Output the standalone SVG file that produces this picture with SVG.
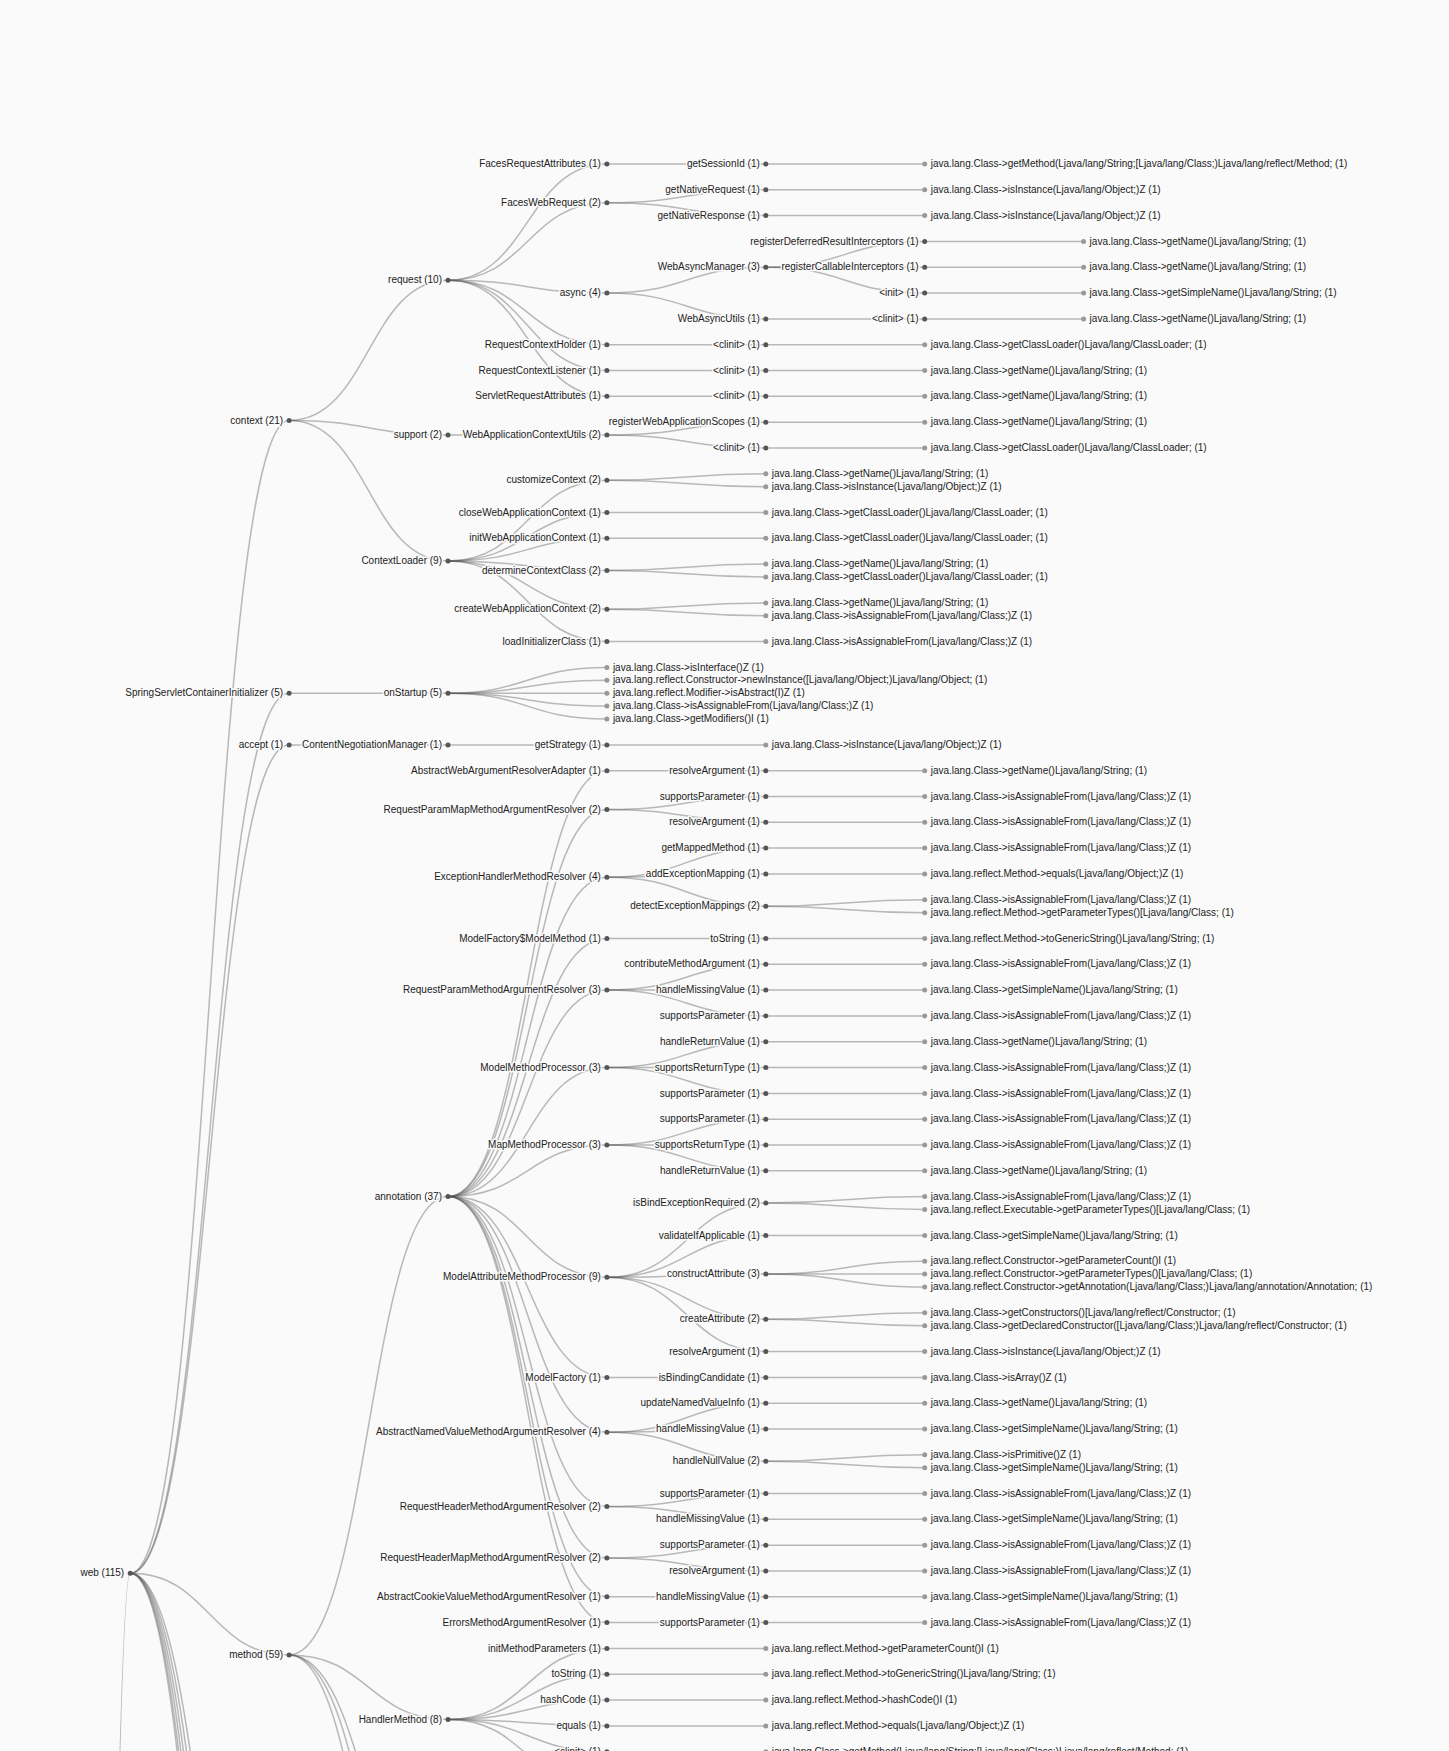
<svg xmlns="http://www.w3.org/2000/svg" width="1449" height="1751" viewBox="0 0 1449 1751">
<style>
.lk path{fill:none;stroke:#555;stroke-opacity:0.4;stroke-width:1.5}
.n text{font-family:"Liberation Sans",Arial,sans-serif;font-size:10px;fill:#222;stroke:#fafafa;stroke-width:3;stroke-linejoin:round;paint-order:stroke}
.i circle{fill:#555}
.i text{text-anchor:end}
.f circle{fill:#999}
.f text{text-anchor:start}
</style>
<rect width="1449" height="1751" fill="#fafafa"/>
<g id="connectors" class="lk">
<path d="M-28.7,31960C50.75,31960 50.75,1573.3 130.2,1573.3"/>
<path d="M130.2,1573.3C209.65,1573.3 209.65,420.5 289.1,420.5"/>
<path d="M130.2,1573.3C209.65,1573.3 209.65,693.2 289.1,693.2"/>
<path d="M130.2,1573.3C209.65,1573.3 209.65,744.9 289.1,744.9"/>
<path d="M130.2,1573.3C209.65,1573.3 209.65,1654.9 289.1,1654.9"/>
<path d="M130.2,1573.3C209.65,1573.3 209.65,2229.3 289.1,2229.3"/>
<path d="M130.2,1573.3C209.65,1573.3 209.65,2332.5 289.1,2332.5"/>
<path d="M130.2,1573.3C209.65,1573.3 209.65,2435.8 289.1,2435.8"/>
<path d="M130.2,1573.3C209.65,1573.3 209.65,2539.1 289.1,2539.1"/>
<path d="M130.2,1573.3C209.65,1573.3 209.65,2642.3 289.1,2642.3"/>
<path d="M130.2,1573.3C209.65,1573.3 209.65,2726.2 289.1,2726.2"/>
<path d="M289.1,420.5C368.55,420.5 368.55,280.2 448,280.2"/>
<path d="M289.1,420.5C368.55,420.5 368.55,435.1 448,435.1"/>
<path d="M289.1,420.5C368.55,420.5 368.55,560.9 448,560.9"/>
<path d="M448,280.2C527.45,280.2 527.45,164 606.9,164"/>
<path d="M448,280.2C527.45,280.2 527.45,202.7 606.9,202.7"/>
<path d="M448,280.2C527.45,280.2 527.45,293.1 606.9,293.1"/>
<path d="M448,280.2C527.45,280.2 527.45,344.7 606.9,344.7"/>
<path d="M448,280.2C527.45,280.2 527.45,370.5 606.9,370.5"/>
<path d="M448,280.2C527.45,280.2 527.45,396.3 606.9,396.3"/>
<path d="M606.9,164C686.35,164 686.35,164 765.8,164"/>
<path d="M765.8,164C845.25,164 845.25,164 924.7,164"/>
<path d="M606.9,202.7C686.35,202.7 686.35,189.8 765.8,189.8"/>
<path d="M606.9,202.7C686.35,202.7 686.35,215.6 765.8,215.6"/>
<path d="M765.8,189.8C845.25,189.8 845.25,189.8 924.7,189.8"/>
<path d="M765.8,215.6C845.25,215.6 845.25,215.6 924.7,215.6"/>
<path d="M606.9,293.1C686.35,293.1 686.35,267.3 765.8,267.3"/>
<path d="M606.9,293.1C686.35,293.1 686.35,318.9 765.8,318.9"/>
<path d="M765.8,267.3C845.25,267.3 845.25,241.4 924.7,241.4"/>
<path d="M765.8,267.3C845.25,267.3 845.25,267.3 924.7,267.3"/>
<path d="M765.8,267.3C845.25,267.3 845.25,293.1 924.7,293.1"/>
<path d="M924.7,241.4C1004.15,241.4 1004.15,241.4 1083.6,241.4"/>
<path d="M924.7,267.3C1004.15,267.3 1004.15,267.3 1083.6,267.3"/>
<path d="M924.7,293.1C1004.15,293.1 1004.15,293.1 1083.6,293.1"/>
<path d="M765.8,318.9C845.25,318.9 845.25,318.9 924.7,318.9"/>
<path d="M924.7,318.9C1004.15,318.9 1004.15,318.9 1083.6,318.9"/>
<path d="M606.9,344.7C686.35,344.7 686.35,344.7 765.8,344.7"/>
<path d="M765.8,344.7C845.25,344.7 845.25,344.7 924.7,344.7"/>
<path d="M606.9,370.5C686.35,370.5 686.35,370.5 765.8,370.5"/>
<path d="M765.8,370.5C845.25,370.5 845.25,370.5 924.7,370.5"/>
<path d="M606.9,396.3C686.35,396.3 686.35,396.3 765.8,396.3"/>
<path d="M765.8,396.3C845.25,396.3 845.25,396.3 924.7,396.3"/>
<path d="M448,435.1C527.45,435.1 527.45,435.1 606.9,435.1"/>
<path d="M606.9,435.1C686.35,435.1 686.35,422.2 765.8,422.2"/>
<path d="M606.9,435.1C686.35,435.1 686.35,448 765.8,448"/>
<path d="M765.8,422.2C845.25,422.2 845.25,422.2 924.7,422.2"/>
<path d="M765.8,448C845.25,448 845.25,448 924.7,448"/>
<path d="M448,560.9C527.45,560.9 527.45,480.2 606.9,480.2"/>
<path d="M448,560.9C527.45,560.9 527.45,512.5 606.9,512.5"/>
<path d="M448,560.9C527.45,560.9 527.45,538.3 606.9,538.3"/>
<path d="M448,560.9C527.45,560.9 527.45,570.6 606.9,570.6"/>
<path d="M448,560.9C527.45,560.9 527.45,609.3 606.9,609.3"/>
<path d="M448,560.9C527.45,560.9 527.45,641.6 606.9,641.6"/>
<path d="M606.9,480.2C686.35,480.2 686.35,473.8 765.8,473.8"/>
<path d="M606.9,480.2C686.35,480.2 686.35,486.7 765.8,486.7"/>
<path d="M606.9,512.5C686.35,512.5 686.35,512.5 765.8,512.5"/>
<path d="M606.9,538.3C686.35,538.3 686.35,538.3 765.8,538.3"/>
<path d="M606.9,570.6C686.35,570.6 686.35,564.1 765.8,564.1"/>
<path d="M606.9,570.6C686.35,570.6 686.35,577.1 765.8,577.1"/>
<path d="M606.9,609.3C686.35,609.3 686.35,602.9 765.8,602.9"/>
<path d="M606.9,609.3C686.35,609.3 686.35,615.8 765.8,615.8"/>
<path d="M606.9,641.6C686.35,641.6 686.35,641.6 765.8,641.6"/>
<path d="M289.1,693.2C368.55,693.2 368.55,693.2 448,693.2"/>
<path d="M448,693.2C527.45,693.2 527.45,667.4 606.9,667.4"/>
<path d="M448,693.2C527.45,693.2 527.45,680.3 606.9,680.3"/>
<path d="M448,693.2C527.45,693.2 527.45,693.2 606.9,693.2"/>
<path d="M448,693.2C527.45,693.2 527.45,706.1 606.9,706.1"/>
<path d="M448,693.2C527.45,693.2 527.45,719 606.9,719"/>
<path d="M289.1,744.9C368.55,744.9 368.55,744.9 448,744.9"/>
<path d="M448,744.9C527.45,744.9 527.45,744.9 606.9,744.9"/>
<path d="M606.9,744.9C686.35,744.9 686.35,744.9 765.8,744.9"/>
<path d="M289.1,1654.9C368.55,1654.9 368.55,1196.6 448,1196.6"/>
<path d="M289.1,1654.9C368.55,1654.9 368.55,1719.4 448,1719.4"/>
<path d="M289.1,1654.9C368.55,1654.9 368.55,1938.9 448,1938.9"/>
<path d="M289.1,1654.9C368.55,1654.9 368.55,2009.8 448,2009.8"/>
<path d="M289.1,1654.9C368.55,1654.9 368.55,2113.1 448,2113.1"/>
<path d="M448,1196.6C527.45,1196.6 527.45,770.7 606.9,770.7"/>
<path d="M448,1196.6C527.45,1196.6 527.45,809.4 606.9,809.4"/>
<path d="M448,1196.6C527.45,1196.6 527.45,877.2 606.9,877.2"/>
<path d="M448,1196.6C527.45,1196.6 527.45,938.5 606.9,938.5"/>
<path d="M448,1196.6C527.45,1196.6 527.45,990.1 606.9,990.1"/>
<path d="M448,1196.6C527.45,1196.6 527.45,1067.6 606.9,1067.6"/>
<path d="M448,1196.6C527.45,1196.6 527.45,1145 606.9,1145"/>
<path d="M448,1196.6C527.45,1196.6 527.45,1277.3 606.9,1277.3"/>
<path d="M448,1196.6C527.45,1196.6 527.45,1377.4 606.9,1377.4"/>
<path d="M448,1196.6C527.45,1196.6 527.45,1432.2 606.9,1432.2"/>
<path d="M448,1196.6C527.45,1196.6 527.45,1506.4 606.9,1506.4"/>
<path d="M448,1196.6C527.45,1196.6 527.45,1558.1 606.9,1558.1"/>
<path d="M448,1196.6C527.45,1196.6 527.45,1596.8 606.9,1596.8"/>
<path d="M448,1196.6C527.45,1196.6 527.45,1622.6 606.9,1622.6"/>
<path d="M606.9,770.7C686.35,770.7 686.35,770.7 765.8,770.7"/>
<path d="M765.8,770.7C845.25,770.7 845.25,770.7 924.7,770.7"/>
<path d="M606.9,809.4C686.35,809.4 686.35,796.5 765.8,796.5"/>
<path d="M606.9,809.4C686.35,809.4 686.35,822.3 765.8,822.3"/>
<path d="M765.8,796.5C845.25,796.5 845.25,796.5 924.7,796.5"/>
<path d="M765.8,822.3C845.25,822.3 845.25,822.3 924.7,822.3"/>
<path d="M606.9,877.2C686.35,877.2 686.35,848.1 765.8,848.1"/>
<path d="M606.9,877.2C686.35,877.2 686.35,874 765.8,874"/>
<path d="M606.9,877.2C686.35,877.2 686.35,906.2 765.8,906.2"/>
<path d="M765.8,848.1C845.25,848.1 845.25,848.1 924.7,848.1"/>
<path d="M765.8,874C845.25,874 845.25,874 924.7,874"/>
<path d="M765.8,906.2C845.25,906.2 845.25,899.8 924.7,899.8"/>
<path d="M765.8,906.2C845.25,906.2 845.25,912.7 924.7,912.7"/>
<path d="M606.9,938.5C686.35,938.5 686.35,938.5 765.8,938.5"/>
<path d="M765.8,938.5C845.25,938.5 845.25,938.5 924.7,938.5"/>
<path d="M606.9,990.1C686.35,990.1 686.35,964.3 765.8,964.3"/>
<path d="M606.9,990.1C686.35,990.1 686.35,990.1 765.8,990.1"/>
<path d="M606.9,990.1C686.35,990.1 686.35,1015.9 765.8,1015.9"/>
<path d="M765.8,964.3C845.25,964.3 845.25,964.3 924.7,964.3"/>
<path d="M765.8,990.1C845.25,990.1 845.25,990.1 924.7,990.1"/>
<path d="M765.8,1015.9C845.25,1015.9 845.25,1015.9 924.7,1015.9"/>
<path d="M606.9,1067.6C686.35,1067.6 686.35,1041.7 765.8,1041.7"/>
<path d="M606.9,1067.6C686.35,1067.6 686.35,1067.6 765.8,1067.6"/>
<path d="M606.9,1067.6C686.35,1067.6 686.35,1093.4 765.8,1093.4"/>
<path d="M765.8,1041.7C845.25,1041.7 845.25,1041.7 924.7,1041.7"/>
<path d="M765.8,1067.6C845.25,1067.6 845.25,1067.6 924.7,1067.6"/>
<path d="M765.8,1093.4C845.25,1093.4 845.25,1093.4 924.7,1093.4"/>
<path d="M606.9,1145C686.35,1145 686.35,1119.2 765.8,1119.2"/>
<path d="M606.9,1145C686.35,1145 686.35,1145 765.8,1145"/>
<path d="M606.9,1145C686.35,1145 686.35,1170.8 765.8,1170.8"/>
<path d="M765.8,1119.2C845.25,1119.2 845.25,1119.2 924.7,1119.2"/>
<path d="M765.8,1145C845.25,1145 845.25,1145 924.7,1145"/>
<path d="M765.8,1170.8C845.25,1170.8 845.25,1170.8 924.7,1170.8"/>
<path d="M606.9,1277.3C686.35,1277.3 686.35,1203.1 765.8,1203.1"/>
<path d="M606.9,1277.3C686.35,1277.3 686.35,1235.4 765.8,1235.4"/>
<path d="M606.9,1277.3C686.35,1277.3 686.35,1274.1 765.8,1274.1"/>
<path d="M606.9,1277.3C686.35,1277.3 686.35,1319.3 765.8,1319.3"/>
<path d="M606.9,1277.3C686.35,1277.3 686.35,1351.5 765.8,1351.5"/>
<path d="M765.8,1203.1C845.25,1203.1 845.25,1196.6 924.7,1196.6"/>
<path d="M765.8,1203.1C845.25,1203.1 845.25,1209.5 924.7,1209.5"/>
<path d="M765.8,1235.4C845.25,1235.4 845.25,1235.4 924.7,1235.4"/>
<path d="M765.8,1274.1C845.25,1274.1 845.25,1261.2 924.7,1261.2"/>
<path d="M765.8,1274.1C845.25,1274.1 845.25,1274.1 924.7,1274.1"/>
<path d="M765.8,1274.1C845.25,1274.1 845.25,1287 924.7,1287"/>
<path d="M765.8,1319.3C845.25,1319.3 845.25,1312.8 924.7,1312.8"/>
<path d="M765.8,1319.3C845.25,1319.3 845.25,1325.7 924.7,1325.7"/>
<path d="M765.8,1351.5C845.25,1351.5 845.25,1351.5 924.7,1351.5"/>
<path d="M606.9,1377.4C686.35,1377.4 686.35,1377.4 765.8,1377.4"/>
<path d="M765.8,1377.4C845.25,1377.4 845.25,1377.4 924.7,1377.4"/>
<path d="M606.9,1432.2C686.35,1432.2 686.35,1403.2 765.8,1403.2"/>
<path d="M606.9,1432.2C686.35,1432.2 686.35,1429 765.8,1429"/>
<path d="M606.9,1432.2C686.35,1432.2 686.35,1461.3 765.8,1461.3"/>
<path d="M765.8,1403.2C845.25,1403.2 845.25,1403.2 924.7,1403.2"/>
<path d="M765.8,1429C845.25,1429 845.25,1429 924.7,1429"/>
<path d="M765.8,1461.3C845.25,1461.3 845.25,1454.8 924.7,1454.8"/>
<path d="M765.8,1461.3C845.25,1461.3 845.25,1467.7 924.7,1467.7"/>
<path d="M606.9,1506.4C686.35,1506.4 686.35,1493.5 765.8,1493.5"/>
<path d="M606.9,1506.4C686.35,1506.4 686.35,1519.3 765.8,1519.3"/>
<path d="M765.8,1493.5C845.25,1493.5 845.25,1493.5 924.7,1493.5"/>
<path d="M765.8,1519.3C845.25,1519.3 845.25,1519.3 924.7,1519.3"/>
<path d="M606.9,1558.1C686.35,1558.1 686.35,1545.2 765.8,1545.2"/>
<path d="M606.9,1558.1C686.35,1558.1 686.35,1571 765.8,1571"/>
<path d="M765.8,1545.2C845.25,1545.2 845.25,1545.2 924.7,1545.2"/>
<path d="M765.8,1571C845.25,1571 845.25,1571 924.7,1571"/>
<path d="M606.9,1596.8C686.35,1596.8 686.35,1596.8 765.8,1596.8"/>
<path d="M765.8,1596.8C845.25,1596.8 845.25,1596.8 924.7,1596.8"/>
<path d="M606.9,1622.6C686.35,1622.6 686.35,1622.6 765.8,1622.6"/>
<path d="M765.8,1622.6C845.25,1622.6 845.25,1622.6 924.7,1622.6"/>
<path d="M448,1719.4C527.45,1719.4 527.45,1648.4 606.9,1648.4"/>
<path d="M448,1719.4C527.45,1719.4 527.45,1674.2 606.9,1674.2"/>
<path d="M448,1719.4C527.45,1719.4 527.45,1700.1 606.9,1700.1"/>
<path d="M448,1719.4C527.45,1719.4 527.45,1725.9 606.9,1725.9"/>
<path d="M448,1719.4C527.45,1719.4 527.45,1751.7 606.9,1751.7"/>
<path d="M448,1719.4C527.45,1719.4 527.45,1790.4 606.9,1790.4"/>
<path d="M606.9,1648.4C686.35,1648.4 686.35,1648.4 765.8,1648.4"/>
<path d="M606.9,1674.2C686.35,1674.2 686.35,1674.2 765.8,1674.2"/>
<path d="M606.9,1700.1C686.35,1700.1 686.35,1700.1 765.8,1700.1"/>
<path d="M606.9,1725.9C686.35,1725.9 686.35,1725.9 765.8,1725.9"/>
<path d="M606.9,1751.7C686.35,1751.7 686.35,1751.7 765.8,1751.7"/>
</g>
<g id="nodes">
<g id="n-web" class="n i" transform="translate(130.2,1573.3)"><circle r="2.5"/><text x="-6" dy="0.31em">web (115)</text></g>
<g id="n-context" class="n i" transform="translate(289.1,420.5)"><circle r="2.5"/><text x="-6" dy="0.31em">context (21)</text></g>
<g id="n-request" class="n i" transform="translate(448,280.2)"><circle r="2.5"/><text x="-6" dy="0.31em">request (10)</text></g>
<g id="n-fra" class="n i" transform="translate(606.9,164)"><circle r="2.5"/><text x="-6" dy="0.31em">FacesRequestAttributes (1)</text></g>
<g id="n-fra-gsi" class="n i" transform="translate(765.8,164)"><circle r="2.5"/><text x="-6" dy="0.31em">getSessionId (1)</text></g>
<g id="n-fra-gsi-l" class="n f" transform="translate(924.7,164)"><circle r="2.5"/><text x="6" dy="0.31em">java.lang.Class-&gt;getMethod(Ljava/lang/String;[Ljava/lang/Class;)Ljava/lang/reflect/Method; (1)</text></g>
<g id="n-fwr" class="n i" transform="translate(606.9,202.7)"><circle r="2.5"/><text x="-6" dy="0.31em">FacesWebRequest (2)</text></g>
<g id="n-fwr-gnq" class="n i" transform="translate(765.8,189.8)"><circle r="2.5"/><text x="-6" dy="0.31em">getNativeRequest (1)</text></g>
<g id="n-fwr-gnq-l" class="n f" transform="translate(924.7,189.8)"><circle r="2.5"/><text x="6" dy="0.31em">java.lang.Class-&gt;isInstance(Ljava/lang/Object;)Z (1)</text></g>
<g id="n-fwr-gns" class="n i" transform="translate(765.8,215.6)"><circle r="2.5"/><text x="-6" dy="0.31em">getNativeResponse (1)</text></g>
<g id="n-fwr-gns-l" class="n f" transform="translate(924.7,215.6)"><circle r="2.5"/><text x="6" dy="0.31em">java.lang.Class-&gt;isInstance(Ljava/lang/Object;)Z (1)</text></g>
<g id="n-async" class="n i" transform="translate(606.9,293.1)"><circle r="2.5"/><text x="-6" dy="0.31em">async (4)</text></g>
<g id="n-wam" class="n i" transform="translate(765.8,267.3)"><circle r="2.5"/><text x="-6" dy="0.31em">WebAsyncManager (3)</text></g>
<g id="n-wam-rdr" class="n i" transform="translate(924.7,241.4)"><circle r="2.5"/><text x="-6" dy="0.31em">registerDeferredResultInterceptors (1)</text></g>
<g id="n-wam-rdr-l" class="n f" transform="translate(1083.6,241.4)"><circle r="2.5"/><text x="6" dy="0.31em">java.lang.Class-&gt;getName()Ljava/lang/String; (1)</text></g>
<g id="n-wam-rci" class="n i" transform="translate(924.7,267.3)"><circle r="2.5"/><text x="-6" dy="0.31em">registerCallableInterceptors (1)</text></g>
<g id="n-wam-rci-l" class="n f" transform="translate(1083.6,267.3)"><circle r="2.5"/><text x="6" dy="0.31em">java.lang.Class-&gt;getName()Ljava/lang/String; (1)</text></g>
<g id="n-wam-init" class="n i" transform="translate(924.7,293.1)"><circle r="2.5"/><text x="-6" dy="0.31em">&lt;init&gt; (1)</text></g>
<g id="n-wam-init-l" class="n f" transform="translate(1083.6,293.1)"><circle r="2.5"/><text x="6" dy="0.31em">java.lang.Class-&gt;getSimpleName()Ljava/lang/String; (1)</text></g>
<g id="n-wau" class="n i" transform="translate(765.8,318.9)"><circle r="2.5"/><text x="-6" dy="0.31em">WebAsyncUtils (1)</text></g>
<g id="n-wau-cl" class="n i" transform="translate(924.7,318.9)"><circle r="2.5"/><text x="-6" dy="0.31em">&lt;clinit&gt; (1)</text></g>
<g id="n-wau-cl-l" class="n f" transform="translate(1083.6,318.9)"><circle r="2.5"/><text x="6" dy="0.31em">java.lang.Class-&gt;getName()Ljava/lang/String; (1)</text></g>
<g id="n-rch" class="n i" transform="translate(606.9,344.7)"><circle r="2.5"/><text x="-6" dy="0.31em">RequestContextHolder (1)</text></g>
<g id="n-rch-cl" class="n i" transform="translate(765.8,344.7)"><circle r="2.5"/><text x="-6" dy="0.31em">&lt;clinit&gt; (1)</text></g>
<g id="n-rch-cl-l" class="n f" transform="translate(924.7,344.7)"><circle r="2.5"/><text x="6" dy="0.31em">java.lang.Class-&gt;getClassLoader()Ljava/lang/ClassLoader; (1)</text></g>
<g id="n-rcl" class="n i" transform="translate(606.9,370.5)"><circle r="2.5"/><text x="-6" dy="0.31em">RequestContextListener (1)</text></g>
<g id="n-rcl-cl" class="n i" transform="translate(765.8,370.5)"><circle r="2.5"/><text x="-6" dy="0.31em">&lt;clinit&gt; (1)</text></g>
<g id="n-rcl-cl-l" class="n f" transform="translate(924.7,370.5)"><circle r="2.5"/><text x="6" dy="0.31em">java.lang.Class-&gt;getName()Ljava/lang/String; (1)</text></g>
<g id="n-sra" class="n i" transform="translate(606.9,396.3)"><circle r="2.5"/><text x="-6" dy="0.31em">ServletRequestAttributes (1)</text></g>
<g id="n-sra-cl" class="n i" transform="translate(765.8,396.3)"><circle r="2.5"/><text x="-6" dy="0.31em">&lt;clinit&gt; (1)</text></g>
<g id="n-sra-cl-l" class="n f" transform="translate(924.7,396.3)"><circle r="2.5"/><text x="6" dy="0.31em">java.lang.Class-&gt;getName()Ljava/lang/String; (1)</text></g>
<g id="n-support" class="n i" transform="translate(448,435.1)"><circle r="2.5"/><text x="-6" dy="0.31em">support (2)</text></g>
<g id="n-wacu" class="n i" transform="translate(606.9,435.1)"><circle r="2.5"/><text x="-6" dy="0.31em">WebApplicationContextUtils (2)</text></g>
<g id="n-wacu-rwas" class="n i" transform="translate(765.8,422.2)"><circle r="2.5"/><text x="-6" dy="0.31em">registerWebApplicationScopes (1)</text></g>
<g id="n-wacu-rwas-l" class="n f" transform="translate(924.7,422.2)"><circle r="2.5"/><text x="6" dy="0.31em">java.lang.Class-&gt;getName()Ljava/lang/String; (1)</text></g>
<g id="n-wacu-cl" class="n i" transform="translate(765.8,448)"><circle r="2.5"/><text x="-6" dy="0.31em">&lt;clinit&gt; (1)</text></g>
<g id="n-wacu-cl-l" class="n f" transform="translate(924.7,448)"><circle r="2.5"/><text x="6" dy="0.31em">java.lang.Class-&gt;getClassLoader()Ljava/lang/ClassLoader; (1)</text></g>
<g id="n-cl" class="n i" transform="translate(448,560.9)"><circle r="2.5"/><text x="-6" dy="0.31em">ContextLoader (9)</text></g>
<g id="n-cl-cc" class="n i" transform="translate(606.9,480.2)"><circle r="2.5"/><text x="-6" dy="0.31em">customizeContext (2)</text></g>
<g id="n-cl-cc-l1" class="n f" transform="translate(765.8,473.8)"><circle r="2.5"/><text x="6" dy="0.31em">java.lang.Class-&gt;getName()Ljava/lang/String; (1)</text></g>
<g id="n-cl-cc-l2" class="n f" transform="translate(765.8,486.7)"><circle r="2.5"/><text x="6" dy="0.31em">java.lang.Class-&gt;isInstance(Ljava/lang/Object;)Z (1)</text></g>
<g id="n-cl-cwac" class="n i" transform="translate(606.9,512.5)"><circle r="2.5"/><text x="-6" dy="0.31em">closeWebApplicationContext (1)</text></g>
<g id="n-cl-cwac-l" class="n f" transform="translate(765.8,512.5)"><circle r="2.5"/><text x="6" dy="0.31em">java.lang.Class-&gt;getClassLoader()Ljava/lang/ClassLoader; (1)</text></g>
<g id="n-cl-iwac" class="n i" transform="translate(606.9,538.3)"><circle r="2.5"/><text x="-6" dy="0.31em">initWebApplicationContext (1)</text></g>
<g id="n-cl-iwac-l" class="n f" transform="translate(765.8,538.3)"><circle r="2.5"/><text x="6" dy="0.31em">java.lang.Class-&gt;getClassLoader()Ljava/lang/ClassLoader; (1)</text></g>
<g id="n-cl-dcc" class="n i" transform="translate(606.9,570.6)"><circle r="2.5"/><text x="-6" dy="0.31em">determineContextClass (2)</text></g>
<g id="n-cl-dcc-l1" class="n f" transform="translate(765.8,564.1)"><circle r="2.5"/><text x="6" dy="0.31em">java.lang.Class-&gt;getName()Ljava/lang/String; (1)</text></g>
<g id="n-cl-dcc-l2" class="n f" transform="translate(765.8,577.1)"><circle r="2.5"/><text x="6" dy="0.31em">java.lang.Class-&gt;getClassLoader()Ljava/lang/ClassLoader; (1)</text></g>
<g id="n-cl-crwac" class="n i" transform="translate(606.9,609.3)"><circle r="2.5"/><text x="-6" dy="0.31em">createWebApplicationContext (2)</text></g>
<g id="n-cl-crwac-l1" class="n f" transform="translate(765.8,602.9)"><circle r="2.5"/><text x="6" dy="0.31em">java.lang.Class-&gt;getName()Ljava/lang/String; (1)</text></g>
<g id="n-cl-crwac-l2" class="n f" transform="translate(765.8,615.8)"><circle r="2.5"/><text x="6" dy="0.31em">java.lang.Class-&gt;isAssignableFrom(Ljava/lang/Class;)Z (1)</text></g>
<g id="n-cl-lic" class="n i" transform="translate(606.9,641.6)"><circle r="2.5"/><text x="-6" dy="0.31em">loadInitializerClass (1)</text></g>
<g id="n-cl-lic-l" class="n f" transform="translate(765.8,641.6)"><circle r="2.5"/><text x="6" dy="0.31em">java.lang.Class-&gt;isAssignableFrom(Ljava/lang/Class;)Z (1)</text></g>
<g id="n-ssci" class="n i" transform="translate(289.1,693.2)"><circle r="2.5"/><text x="-6" dy="0.31em">SpringServletContainerInitializer (5)</text></g>
<g id="n-ssci-os" class="n i" transform="translate(448,693.2)"><circle r="2.5"/><text x="-6" dy="0.31em">onStartup (5)</text></g>
<g id="n-ssci-os-l1" class="n f" transform="translate(606.9,667.4)"><circle r="2.5"/><text x="6" dy="0.31em">java.lang.Class-&gt;isInterface()Z (1)</text></g>
<g id="n-ssci-os-l2" class="n f" transform="translate(606.9,680.3)"><circle r="2.5"/><text x="6" dy="0.31em">java.lang.reflect.Constructor-&gt;newInstance([Ljava/lang/Object;)Ljava/lang/Object; (1)</text></g>
<g id="n-ssci-os-l3" class="n f" transform="translate(606.9,693.2)"><circle r="2.5"/><text x="6" dy="0.31em">java.lang.reflect.Modifier-&gt;isAbstract(I)Z (1)</text></g>
<g id="n-ssci-os-l4" class="n f" transform="translate(606.9,706.1)"><circle r="2.5"/><text x="6" dy="0.31em">java.lang.Class-&gt;isAssignableFrom(Ljava/lang/Class;)Z (1)</text></g>
<g id="n-ssci-os-l5" class="n f" transform="translate(606.9,719)"><circle r="2.5"/><text x="6" dy="0.31em">java.lang.Class-&gt;getModifiers()I (1)</text></g>
<g id="n-accept" class="n i" transform="translate(289.1,744.9)"><circle r="2.5"/><text x="-6" dy="0.31em">accept (1)</text></g>
<g id="n-cnm" class="n i" transform="translate(448,744.9)"><circle r="2.5"/><text x="-6" dy="0.31em">ContentNegotiationManager (1)</text></g>
<g id="n-cnm-gs" class="n i" transform="translate(606.9,744.9)"><circle r="2.5"/><text x="-6" dy="0.31em">getStrategy (1)</text></g>
<g id="n-cnm-gs-l" class="n f" transform="translate(765.8,744.9)"><circle r="2.5"/><text x="6" dy="0.31em">java.lang.Class-&gt;isInstance(Ljava/lang/Object;)Z (1)</text></g>
<g id="n-method" class="n i" transform="translate(289.1,1654.9)"><circle r="2.5"/><text x="-6" dy="0.31em">method (59)</text></g>
<g id="n-annotation" class="n i" transform="translate(448,1196.6)"><circle r="2.5"/><text x="-6" dy="0.31em">annotation (37)</text></g>
<g id="n-awara" class="n i" transform="translate(606.9,770.7)"><circle r="2.5"/><text x="-6" dy="0.31em">AbstractWebArgumentResolverAdapter (1)</text></g>
<g id="n-awara-ra" class="n i" transform="translate(765.8,770.7)"><circle r="2.5"/><text x="-6" dy="0.31em">resolveArgument (1)</text></g>
<g id="n-awara-ra-l" class="n f" transform="translate(924.7,770.7)"><circle r="2.5"/><text x="6" dy="0.31em">java.lang.Class-&gt;getName()Ljava/lang/String; (1)</text></g>
<g id="n-rpmmar" class="n i" transform="translate(606.9,809.4)"><circle r="2.5"/><text x="-6" dy="0.31em">RequestParamMapMethodArgumentResolver (2)</text></g>
<g id="n-rpmmar-sp" class="n i" transform="translate(765.8,796.5)"><circle r="2.5"/><text x="-6" dy="0.31em">supportsParameter (1)</text></g>
<g id="n-rpmmar-sp-l" class="n f" transform="translate(924.7,796.5)"><circle r="2.5"/><text x="6" dy="0.31em">java.lang.Class-&gt;isAssignableFrom(Ljava/lang/Class;)Z (1)</text></g>
<g id="n-rpmmar-ra" class="n i" transform="translate(765.8,822.3)"><circle r="2.5"/><text x="-6" dy="0.31em">resolveArgument (1)</text></g>
<g id="n-rpmmar-ra-l" class="n f" transform="translate(924.7,822.3)"><circle r="2.5"/><text x="6" dy="0.31em">java.lang.Class-&gt;isAssignableFrom(Ljava/lang/Class;)Z (1)</text></g>
<g id="n-ehmr" class="n i" transform="translate(606.9,877.2)"><circle r="2.5"/><text x="-6" dy="0.31em">ExceptionHandlerMethodResolver (4)</text></g>
<g id="n-ehmr-gmm" class="n i" transform="translate(765.8,848.1)"><circle r="2.5"/><text x="-6" dy="0.31em">getMappedMethod (1)</text></g>
<g id="n-ehmr-gmm-l" class="n f" transform="translate(924.7,848.1)"><circle r="2.5"/><text x="6" dy="0.31em">java.lang.Class-&gt;isAssignableFrom(Ljava/lang/Class;)Z (1)</text></g>
<g id="n-ehmr-aem" class="n i" transform="translate(765.8,874)"><circle r="2.5"/><text x="-6" dy="0.31em">addExceptionMapping (1)</text></g>
<g id="n-ehmr-aem-l" class="n f" transform="translate(924.7,874)"><circle r="2.5"/><text x="6" dy="0.31em">java.lang.reflect.Method-&gt;equals(Ljava/lang/Object;)Z (1)</text></g>
<g id="n-ehmr-dem" class="n i" transform="translate(765.8,906.2)"><circle r="2.5"/><text x="-6" dy="0.31em">detectExceptionMappings (2)</text></g>
<g id="n-ehmr-dem-l1" class="n f" transform="translate(924.7,899.8)"><circle r="2.5"/><text x="6" dy="0.31em">java.lang.Class-&gt;isAssignableFrom(Ljava/lang/Class;)Z (1)</text></g>
<g id="n-ehmr-dem-l2" class="n f" transform="translate(924.7,912.7)"><circle r="2.5"/><text x="6" dy="0.31em">java.lang.reflect.Method-&gt;getParameterTypes()[Ljava/lang/Class; (1)</text></g>
<g id="n-mfmm" class="n i" transform="translate(606.9,938.5)"><circle r="2.5"/><text x="-6" dy="0.31em">ModelFactory$ModelMethod (1)</text></g>
<g id="n-mfmm-ts" class="n i" transform="translate(765.8,938.5)"><circle r="2.5"/><text x="-6" dy="0.31em">toString (1)</text></g>
<g id="n-mfmm-ts-l" class="n f" transform="translate(924.7,938.5)"><circle r="2.5"/><text x="6" dy="0.31em">java.lang.reflect.Method-&gt;toGenericString()Ljava/lang/String; (1)</text></g>
<g id="n-rpmar" class="n i" transform="translate(606.9,990.1)"><circle r="2.5"/><text x="-6" dy="0.31em">RequestParamMethodArgumentResolver (3)</text></g>
<g id="n-rpmar-cma" class="n i" transform="translate(765.8,964.3)"><circle r="2.5"/><text x="-6" dy="0.31em">contributeMethodArgument (1)</text></g>
<g id="n-rpmar-cma-l" class="n f" transform="translate(924.7,964.3)"><circle r="2.5"/><text x="6" dy="0.31em">java.lang.Class-&gt;isAssignableFrom(Ljava/lang/Class;)Z (1)</text></g>
<g id="n-rpmar-hmv" class="n i" transform="translate(765.8,990.1)"><circle r="2.5"/><text x="-6" dy="0.31em">handleMissingValue (1)</text></g>
<g id="n-rpmar-hmv-l" class="n f" transform="translate(924.7,990.1)"><circle r="2.5"/><text x="6" dy="0.31em">java.lang.Class-&gt;getSimpleName()Ljava/lang/String; (1)</text></g>
<g id="n-rpmar-sp" class="n i" transform="translate(765.8,1015.9)"><circle r="2.5"/><text x="-6" dy="0.31em">supportsParameter (1)</text></g>
<g id="n-rpmar-sp-l" class="n f" transform="translate(924.7,1015.9)"><circle r="2.5"/><text x="6" dy="0.31em">java.lang.Class-&gt;isAssignableFrom(Ljava/lang/Class;)Z (1)</text></g>
<g id="n-mmp" class="n i" transform="translate(606.9,1067.6)"><circle r="2.5"/><text x="-6" dy="0.31em">ModelMethodProcessor (3)</text></g>
<g id="n-mmp-hrv" class="n i" transform="translate(765.8,1041.7)"><circle r="2.5"/><text x="-6" dy="0.31em">handleReturnValue (1)</text></g>
<g id="n-mmp-hrv-l" class="n f" transform="translate(924.7,1041.7)"><circle r="2.5"/><text x="6" dy="0.31em">java.lang.Class-&gt;getName()Ljava/lang/String; (1)</text></g>
<g id="n-mmp-srt" class="n i" transform="translate(765.8,1067.6)"><circle r="2.5"/><text x="-6" dy="0.31em">supportsReturnType (1)</text></g>
<g id="n-mmp-srt-l" class="n f" transform="translate(924.7,1067.6)"><circle r="2.5"/><text x="6" dy="0.31em">java.lang.Class-&gt;isAssignableFrom(Ljava/lang/Class;)Z (1)</text></g>
<g id="n-mmp-sp" class="n i" transform="translate(765.8,1093.4)"><circle r="2.5"/><text x="-6" dy="0.31em">supportsParameter (1)</text></g>
<g id="n-mmp-sp-l" class="n f" transform="translate(924.7,1093.4)"><circle r="2.5"/><text x="6" dy="0.31em">java.lang.Class-&gt;isAssignableFrom(Ljava/lang/Class;)Z (1)</text></g>
<g id="n-mapmp" class="n i" transform="translate(606.9,1145)"><circle r="2.5"/><text x="-6" dy="0.31em">MapMethodProcessor (3)</text></g>
<g id="n-mapmp-sp" class="n i" transform="translate(765.8,1119.2)"><circle r="2.5"/><text x="-6" dy="0.31em">supportsParameter (1)</text></g>
<g id="n-mapmp-sp-l" class="n f" transform="translate(924.7,1119.2)"><circle r="2.5"/><text x="6" dy="0.31em">java.lang.Class-&gt;isAssignableFrom(Ljava/lang/Class;)Z (1)</text></g>
<g id="n-mapmp-srt" class="n i" transform="translate(765.8,1145)"><circle r="2.5"/><text x="-6" dy="0.31em">supportsReturnType (1)</text></g>
<g id="n-mapmp-srt-l" class="n f" transform="translate(924.7,1145)"><circle r="2.5"/><text x="6" dy="0.31em">java.lang.Class-&gt;isAssignableFrom(Ljava/lang/Class;)Z (1)</text></g>
<g id="n-mapmp-hrv" class="n i" transform="translate(765.8,1170.8)"><circle r="2.5"/><text x="-6" dy="0.31em">handleReturnValue (1)</text></g>
<g id="n-mapmp-hrv-l" class="n f" transform="translate(924.7,1170.8)"><circle r="2.5"/><text x="6" dy="0.31em">java.lang.Class-&gt;getName()Ljava/lang/String; (1)</text></g>
<g id="n-mamp" class="n i" transform="translate(606.9,1277.3)"><circle r="2.5"/><text x="-6" dy="0.31em">ModelAttributeMethodProcessor (9)</text></g>
<g id="n-mamp-iber" class="n i" transform="translate(765.8,1203.1)"><circle r="2.5"/><text x="-6" dy="0.31em">isBindExceptionRequired (2)</text></g>
<g id="n-mamp-iber-l1" class="n f" transform="translate(924.7,1196.6)"><circle r="2.5"/><text x="6" dy="0.31em">java.lang.Class-&gt;isAssignableFrom(Ljava/lang/Class;)Z (1)</text></g>
<g id="n-mamp-iber-l2" class="n f" transform="translate(924.7,1209.5)"><circle r="2.5"/><text x="6" dy="0.31em">java.lang.reflect.Executable-&gt;getParameterTypes()[Ljava/lang/Class; (1)</text></g>
<g id="n-mamp-via" class="n i" transform="translate(765.8,1235.4)"><circle r="2.5"/><text x="-6" dy="0.31em">validateIfApplicable (1)</text></g>
<g id="n-mamp-via-l" class="n f" transform="translate(924.7,1235.4)"><circle r="2.5"/><text x="6" dy="0.31em">java.lang.Class-&gt;getSimpleName()Ljava/lang/String; (1)</text></g>
<g id="n-mamp-ca" class="n i" transform="translate(765.8,1274.1)"><circle r="2.5"/><text x="-6" dy="0.31em">constructAttribute (3)</text></g>
<g id="n-mamp-ca-l1" class="n f" transform="translate(924.7,1261.2)"><circle r="2.5"/><text x="6" dy="0.31em">java.lang.reflect.Constructor-&gt;getParameterCount()I (1)</text></g>
<g id="n-mamp-ca-l2" class="n f" transform="translate(924.7,1274.1)"><circle r="2.5"/><text x="6" dy="0.31em">java.lang.reflect.Constructor-&gt;getParameterTypes()[Ljava/lang/Class; (1)</text></g>
<g id="n-mamp-ca-l3" class="n f" transform="translate(924.7,1287)"><circle r="2.5"/><text x="6" dy="0.31em">java.lang.reflect.Constructor-&gt;getAnnotation(Ljava/lang/Class;)Ljava/lang/annotation/Annotation; (1)</text></g>
<g id="n-mamp-cra" class="n i" transform="translate(765.8,1319.3)"><circle r="2.5"/><text x="-6" dy="0.31em">createAttribute (2)</text></g>
<g id="n-mamp-cra-l1" class="n f" transform="translate(924.7,1312.8)"><circle r="2.5"/><text x="6" dy="0.31em">java.lang.Class-&gt;getConstructors()[Ljava/lang/reflect/Constructor; (1)</text></g>
<g id="n-mamp-cra-l2" class="n f" transform="translate(924.7,1325.7)"><circle r="2.5"/><text x="6" dy="0.31em">java.lang.Class-&gt;getDeclaredConstructor([Ljava/lang/Class;)Ljava/lang/reflect/Constructor; (1)</text></g>
<g id="n-mamp-ra" class="n i" transform="translate(765.8,1351.5)"><circle r="2.5"/><text x="-6" dy="0.31em">resolveArgument (1)</text></g>
<g id="n-mamp-ra-l" class="n f" transform="translate(924.7,1351.5)"><circle r="2.5"/><text x="6" dy="0.31em">java.lang.Class-&gt;isInstance(Ljava/lang/Object;)Z (1)</text></g>
<g id="n-mf" class="n i" transform="translate(606.9,1377.4)"><circle r="2.5"/><text x="-6" dy="0.31em">ModelFactory (1)</text></g>
<g id="n-mf-ibc" class="n i" transform="translate(765.8,1377.4)"><circle r="2.5"/><text x="-6" dy="0.31em">isBindingCandidate (1)</text></g>
<g id="n-mf-ibc-l" class="n f" transform="translate(924.7,1377.4)"><circle r="2.5"/><text x="6" dy="0.31em">java.lang.Class-&gt;isArray()Z (1)</text></g>
<g id="n-anvmar" class="n i" transform="translate(606.9,1432.2)"><circle r="2.5"/><text x="-6" dy="0.31em">AbstractNamedValueMethodArgumentResolver (4)</text></g>
<g id="n-anvmar-unvi" class="n i" transform="translate(765.8,1403.2)"><circle r="2.5"/><text x="-6" dy="0.31em">updateNamedValueInfo (1)</text></g>
<g id="n-anvmar-unvi-l" class="n f" transform="translate(924.7,1403.2)"><circle r="2.5"/><text x="6" dy="0.31em">java.lang.Class-&gt;getName()Ljava/lang/String; (1)</text></g>
<g id="n-anvmar-hmv" class="n i" transform="translate(765.8,1429)"><circle r="2.5"/><text x="-6" dy="0.31em">handleMissingValue (1)</text></g>
<g id="n-anvmar-hmv-l" class="n f" transform="translate(924.7,1429)"><circle r="2.5"/><text x="6" dy="0.31em">java.lang.Class-&gt;getSimpleName()Ljava/lang/String; (1)</text></g>
<g id="n-anvmar-hnv" class="n i" transform="translate(765.8,1461.3)"><circle r="2.5"/><text x="-6" dy="0.31em">handleNullValue (2)</text></g>
<g id="n-anvmar-hnv-l1" class="n f" transform="translate(924.7,1454.8)"><circle r="2.5"/><text x="6" dy="0.31em">java.lang.Class-&gt;isPrimitive()Z (1)</text></g>
<g id="n-anvmar-hnv-l2" class="n f" transform="translate(924.7,1467.7)"><circle r="2.5"/><text x="6" dy="0.31em">java.lang.Class-&gt;getSimpleName()Ljava/lang/String; (1)</text></g>
<g id="n-rhmar" class="n i" transform="translate(606.9,1506.4)"><circle r="2.5"/><text x="-6" dy="0.31em">RequestHeaderMethodArgumentResolver (2)</text></g>
<g id="n-rhmar-sp" class="n i" transform="translate(765.8,1493.5)"><circle r="2.5"/><text x="-6" dy="0.31em">supportsParameter (1)</text></g>
<g id="n-rhmar-sp-l" class="n f" transform="translate(924.7,1493.5)"><circle r="2.5"/><text x="6" dy="0.31em">java.lang.Class-&gt;isAssignableFrom(Ljava/lang/Class;)Z (1)</text></g>
<g id="n-rhmar-hmv" class="n i" transform="translate(765.8,1519.3)"><circle r="2.5"/><text x="-6" dy="0.31em">handleMissingValue (1)</text></g>
<g id="n-rhmar-hmv-l" class="n f" transform="translate(924.7,1519.3)"><circle r="2.5"/><text x="6" dy="0.31em">java.lang.Class-&gt;getSimpleName()Ljava/lang/String; (1)</text></g>
<g id="n-rhmmar" class="n i" transform="translate(606.9,1558.1)"><circle r="2.5"/><text x="-6" dy="0.31em">RequestHeaderMapMethodArgumentResolver (2)</text></g>
<g id="n-rhmmar-sp" class="n i" transform="translate(765.8,1545.2)"><circle r="2.5"/><text x="-6" dy="0.31em">supportsParameter (1)</text></g>
<g id="n-rhmmar-sp-l" class="n f" transform="translate(924.7,1545.2)"><circle r="2.5"/><text x="6" dy="0.31em">java.lang.Class-&gt;isAssignableFrom(Ljava/lang/Class;)Z (1)</text></g>
<g id="n-rhmmar-ra" class="n i" transform="translate(765.8,1571)"><circle r="2.5"/><text x="-6" dy="0.31em">resolveArgument (1)</text></g>
<g id="n-rhmmar-ra-l" class="n f" transform="translate(924.7,1571)"><circle r="2.5"/><text x="6" dy="0.31em">java.lang.Class-&gt;isAssignableFrom(Ljava/lang/Class;)Z (1)</text></g>
<g id="n-acvmar" class="n i" transform="translate(606.9,1596.8)"><circle r="2.5"/><text x="-6" dy="0.31em">AbstractCookieValueMethodArgumentResolver (1)</text></g>
<g id="n-acvmar-hmv" class="n i" transform="translate(765.8,1596.8)"><circle r="2.5"/><text x="-6" dy="0.31em">handleMissingValue (1)</text></g>
<g id="n-acvmar-hmv-l" class="n f" transform="translate(924.7,1596.8)"><circle r="2.5"/><text x="6" dy="0.31em">java.lang.Class-&gt;getSimpleName()Ljava/lang/String; (1)</text></g>
<g id="n-emar" class="n i" transform="translate(606.9,1622.6)"><circle r="2.5"/><text x="-6" dy="0.31em">ErrorsMethodArgumentResolver (1)</text></g>
<g id="n-emar-sp" class="n i" transform="translate(765.8,1622.6)"><circle r="2.5"/><text x="-6" dy="0.31em">supportsParameter (1)</text></g>
<g id="n-emar-sp-l" class="n f" transform="translate(924.7,1622.6)"><circle r="2.5"/><text x="6" dy="0.31em">java.lang.Class-&gt;isAssignableFrom(Ljava/lang/Class;)Z (1)</text></g>
<g id="n-hm" class="n i" transform="translate(448,1719.4)"><circle r="2.5"/><text x="-6" dy="0.31em">HandlerMethod (8)</text></g>
<g id="n-hm-imp" class="n i" transform="translate(606.9,1648.4)"><circle r="2.5"/><text x="-6" dy="0.31em">initMethodParameters (1)</text></g>
<g id="n-hm-imp-l" class="n f" transform="translate(765.8,1648.4)"><circle r="2.5"/><text x="6" dy="0.31em">java.lang.reflect.Method-&gt;getParameterCount()I (1)</text></g>
<g id="n-hm-ts" class="n i" transform="translate(606.9,1674.2)"><circle r="2.5"/><text x="-6" dy="0.31em">toString (1)</text></g>
<g id="n-hm-ts-l" class="n f" transform="translate(765.8,1674.2)"><circle r="2.5"/><text x="6" dy="0.31em">java.lang.reflect.Method-&gt;toGenericString()Ljava/lang/String; (1)</text></g>
<g id="n-hm-hc" class="n i" transform="translate(606.9,1700.1)"><circle r="2.5"/><text x="-6" dy="0.31em">hashCode (1)</text></g>
<g id="n-hm-hc-l" class="n f" transform="translate(765.8,1700.1)"><circle r="2.5"/><text x="6" dy="0.31em">java.lang.reflect.Method-&gt;hashCode()I (1)</text></g>
<g id="n-hm-eq" class="n i" transform="translate(606.9,1725.9)"><circle r="2.5"/><text x="-6" dy="0.31em">equals (1)</text></g>
<g id="n-hm-eq-l" class="n f" transform="translate(765.8,1725.9)"><circle r="2.5"/><text x="6" dy="0.31em">java.lang.reflect.Method-&gt;equals(Ljava/lang/Object;)Z (1)</text></g>
<g id="n-hm-cl" class="n i" transform="translate(606.9,1751.7)"><circle r="2.5"/><text x="-6" dy="0.31em">&lt;clinit&gt; (1)</text></g>
<g id="n-hm-cl-l" class="n f" transform="translate(765.8,1751.7)"><circle r="2.5"/><text x="6" dy="0.31em">java.lang.Class-&gt;getMethod(Ljava/lang/String;[Ljava/lang/Class;)Ljava/lang/reflect/Method; (1)</text></g>
</g>
</svg>
